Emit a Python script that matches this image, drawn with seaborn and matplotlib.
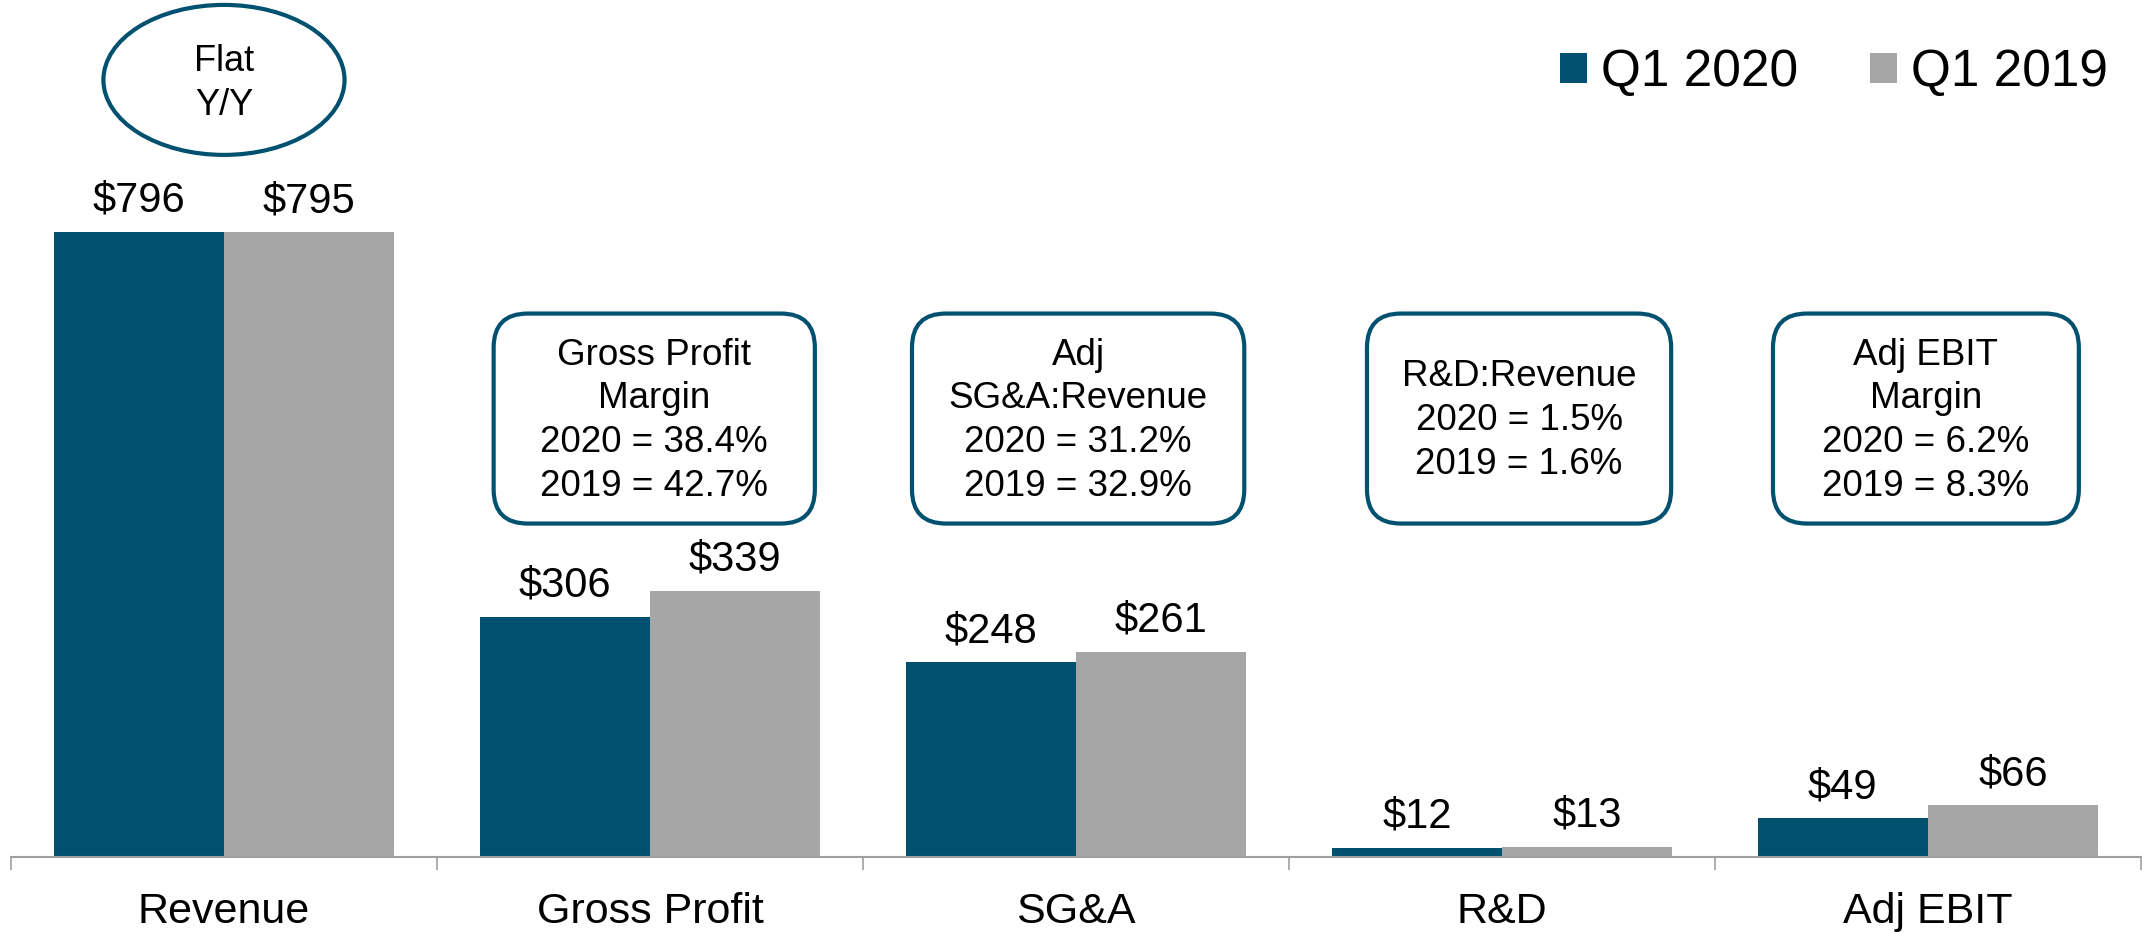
import numpy as np
import pandas as pd
import matplotlib
matplotlib.use('Agg')
import matplotlib.pyplot as plt
from matplotlib.patches import FancyBboxPatch, Ellipse, Patch
from matplotlib.ticker import FixedLocator
import seaborn as sns

# data
categories = ['Revenue', 'Gross Profit', 'SG&A', 'R&D', 'Adj EBIT']
q1_2020 = [796, 306, 248, 12, 49]
q1_2019 = [795, 339, 261, 13, 66]
series_names = ['Q1 2020', 'Q1 2019']

# callout boxes (category position, text)
callouts = [
    (1.01, 'Gross Profit\nMargin\n2020 = 38.4%\n2019 = 42.7%'),
    (2.005, 'Adj\nSG&A:Revenue\n2020 = 31.2%\n2019 = 32.9%'),
    (3.04, 'R&D:Revenue\n2020 = 1.5%\n2019 = 1.6%'),
    (3.995, 'Adj EBIT\nMargin\n2020 = 6.2%\n2019 = 8.3%'),
]
callout_widths = [0.754, 0.78, 0.714, 0.718]
flat_text = 'Flat\nY/Y'

teal = '#005070'
grey = '#A6A6A6'

sns.set_theme(style='white')
plt.rcParams['font.family'] = ['Liberation Sans', 'DejaVu Sans']
plt.rcParams['text.color'] = 'black'

df = pd.DataFrame({
    'metric': categories * 2,
    'value': q1_2020 + q1_2019,
    'period': [series_names[0]] * len(categories) + [series_names[1]] * len(categories),
})

fig = plt.figure(figsize=(21.49, 9.32), dpi=100)
ax = fig.add_axes([0.0051, 0.0805, 0.9912, 0.9195])

sns.barplot(data=df, x='metric', y='value', hue='period', palette=[teal, grey],
            saturation=1, width=0.8, linewidth=0, edgecolor='none', ax=ax, legend=False)

ymax = 1090.7
ax.set_ylim(0, ymax)
ax.set_xlim(-0.5, len(categories) - 0.5)

for cont in ax.containers:
    ax.bar_label(cont, labels=['$' + str(int(v)) for v in cont.datavalues],
                 padding=8, fontsize=30, color='black')

# axes styling
for side in ['left', 'top', 'right']:
    ax.spines[side].set_visible(False)
ax.spines['bottom'].set_color('#A0A0A0')
ax.spines['bottom'].set_linewidth(1.5)
ax.set_yticks([])
ax.set_xlabel('')
ax.set_ylabel('')
ax.tick_params(axis='x', which='major', length=0, pad=25, labelsize=31, labelcolor='black')
ax.xaxis.set_minor_locator(FixedLocator(np.arange(-0.5, len(categories), 1.0)))
ax.tick_params(axis='x', which='minor', bottom=True, length=9.5, width=1.2,
               color='#A0A0A0', direction='out')

# rounded callout boxes
px_x = 1.0 / 426
px_y = ymax / 857
box_h = 210 * px_y
box_yc = 558
for (xc, txt), w in zip(callouts, callout_widths):
    patch = FancyBboxPatch((xc - w / 2, box_yc - box_h / 2), w, box_h,
                           boxstyle='round,pad=0,rounding_size=%f' % (34 * px_x),
                           mutation_aspect=px_y / px_x,
                           facecolor='white', edgecolor=teal, linewidth=3, zorder=4)
    ax.add_patch(patch)
    ax.text(xc, box_yc - 3, txt, ha='center', va='center', fontsize=26.5,
            linespacing=1.33, color='black', zorder=5)

# ellipse over revenue
ell = Ellipse((0, 989), 0.566, 150 * px_y, facecolor='white', edgecolor=teal,
              linewidth=3, zorder=4, clip_on=False)
ax.add_patch(ell)
ax.text(0, 984, flat_text, ha='center', va='center', fontsize=26, linespacing=1.33,
        color='black', zorder=5)

# legend
handles = [Patch(facecolor=teal, edgecolor='none'), Patch(facecolor=grey, edgecolor='none')]
ax.legend(handles, series_names, loc='center right', bbox_to_anchor=(0.994, 0.915),
          ncol=2, frameon=False, fontsize=37, handlelength=0.53, handleheight=0.53,
          handletextpad=0.27, columnspacing=1.4, borderaxespad=0, labelcolor='black')

fig.savefig('out.png', dpi=100)
